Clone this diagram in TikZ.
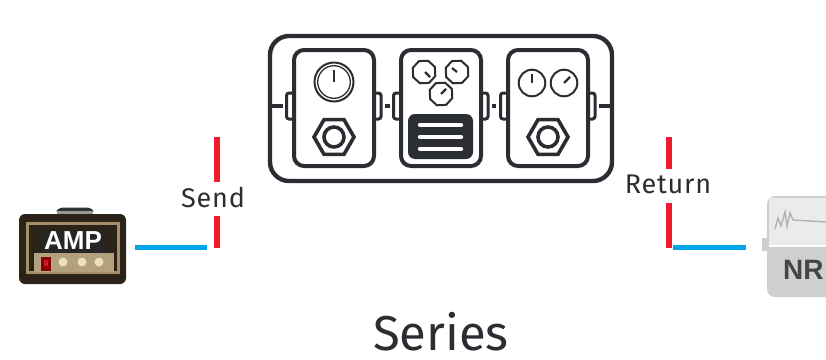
\documentclass[tikz,border=0pt]{standalone}
\usepackage{fontspec}
\setmainfont{Fira Sans}
\newfontfamily\ampfont{Liberation Sans}[Scale=1]
\definecolor{ink}{HTML}{2A2D32}
\definecolor{sendred}{HTML}{ED1C2E}
\definecolor{wireblue}{HTML}{00A6E8}
\definecolor{ampdark}{HTML}{2B2318}
\definecolor{ampgold}{HTML}{A68F68}
\definecolor{ampcream}{HTML}{EFE0B8}
\definecolor{nrgrey}{HTML}{CFD0CE}
\definecolor{nrdark}{HTML}{444545}
\begin{document}
\begin{tikzpicture}[
    x=1pt, y=-1pt,
    line cap=butt, line join=miter,
    board/.style={ink, line width=4.4pt, rounded corners=19pt},
    pedal/.style={ink, fill=white, line width=4pt, rounded corners=10pt},
    tab/.style={ink, fill=white, line width=3pt, rounded corners=2.5pt},
    wire/.style={ink, line width=4pt},
    thin knob/.style={ink, line width=2pt, line join=round},
    pointer/.style={ink, line width=2.2pt},
    nut/.style={ink, line width=3.6pt},
    redline/.style={sendred, line width=5.4pt},
    blueline/.style={wireblue, line width=5.2pt},
    bar/.style={white, line width=4.4pt, line cap=round},
    label/.style={ink, font=\fontsize{27}{27}\selectfont, inner sep=0pt},
]
\useasboundingbox (0,0) rectangle (826,359);

% --- Pedal board ---
\draw[board] (270,36) rectangle (612,181);

% Wires through the board
\draw[wire] (270,106) -- (283,106);
\draw[wire] (385,106) -- (390,106);
\draw[wire] (492,106) -- (496,106);
\draw[wire] (599,106) -- (612,106);

% Side tabs
\draw[tab] (286.5,93) rectangle (296,119);
\draw[tab] (371,93) rectangle (381,119);
\draw[tab] (393.5,93) rectangle (403,119);
\draw[tab] (478,93) rectangle (488,119);
\draw[tab] (500.5,93) rectangle (510,119);
\draw[tab] (585,93) rectangle (595,119);

% Pedal bodies
\draw[pedal] (294,50) rectangle (374,166);
\draw[pedal] (401,50) rectangle (481,166);
\draw[pedal] (508,50) rectangle (588,166);

% --- Pedal 1: big knob and jack ---
\draw[thin knob] (334,82) circle (19.5);
\draw[ink, line width=1.3pt] (334,82) circle (16.3);
\draw[pointer] (334,70) -- (334,82);
\draw[nut] (334,137) +(0:20) -- +(60:20) -- +(120:20) -- +(180:20) -- +(240:20) -- +(300:20) -- cycle;
\draw[nut] (334,137) circle (10);

% --- Pedal 2: three knobs and panel ---
\draw[thin knob] (424,72) +(20:12) -- +(65:12) -- +(110:12) -- +(155:12) -- +(200:12) -- +(245:12) -- +(290:12) -- +(335:12) -- cycle;
\draw[pointer] (425,72) -- (430,77);
\draw[thin knob] (457,72) +(20:12) -- +(65:12) -- +(110:12) -- +(155:12) -- +(200:12) -- +(245:12) -- +(290:12) -- +(335:12) -- cycle;
\draw[pointer] (452,68) -- (457,72);
\draw[thin knob] (441,94) +(20:12) -- +(65:12) -- +(110:12) -- +(155:12) -- +(200:12) -- +(245:12) -- +(290:12) -- +(335:12) -- cycle;
\draw[pointer] (441,94) -- (446,89);
\fill[ink, rounded corners=7pt] (408,114) rectangle (473,159);
\draw[bar] (420,125) -- (461,125);
\draw[bar] (420,137) -- (461,137);
\draw[bar] (420,149) -- (461,149);

% --- Pedal 3: two knobs and jack ---
\draw[thin knob] (532,83) circle (13.3);
\draw[pointer] (532,74) -- (532,83);
\draw[thin knob] (564,83) circle (13.3);
\draw[pointer] (564,83) -- (570,77);
\draw[nut] (548,137) +(0:20) -- +(60:20) -- +(120:20) -- +(180:20) -- +(240:20) -- +(300:20) -- cycle;
\draw[nut] (548,137) circle (10);

% --- Send side ---
\draw[redline] (217,137) -- (217,182);
\draw[redline] (217,216) -- (217,248);
\draw[blueline] (135,247.5) -- (207,247.5);
\node[label] (send) at (213,197.5) {\addfontfeature{LetterSpace=3}Send};

% --- Return side ---
\draw[redline] (669,137) -- (669,169);
\draw[redline] (669,203) -- (669,248);
\draw[blueline] (673,247.5) -- (746,247.5);
\node[label] (return) at (668,184.5) {\addfontfeature{LetterSpace=3}Return};

% --- Amp head ---
\fill[black!80, rounded corners=3pt] (55,212) -- (60,207.5) -- (90,207.5) -- (95,212) -- cycle;
\fill[black!40] (57,211) rectangle (93,214);
\fill[ampdark, rounded corners=6pt] (19,214) rectangle (126,284);
\fill[ampgold] (26,222) rectangle (120,274);
\fill[ampdark] (29,225) rectangle (117,271);
\fill[ampgold!85!white] (34,253) rectangle (114,272);
\fill[black!85] (42,231) rectangle (106,253);
\node[white, font=\ampfont\bfseries\fontsize{26}{26}\selectfont, inner sep=0pt] (amp) at (73,241) {AMP};
\fill[red!55!black] (41,257) rectangle (51,271);
\fill[sendred!85!black] (44,260) rectangle (48,266);
\fill[ampcream] (63,262) circle (4.5);
\fill[ampcream] (82,262) circle (4.5);
\fill[ampcream] (99,262) circle (4.5);

% --- NR pedal, cut by the right edge ---
\fill[nrgrey] (762,238) rectangle (770,251);
\fill[nrgrey, rounded corners=8pt] (767,196) -- (840,196) -- (840,297) -- (767,297) -- cycle;
\fill[black!8] (769,198) rectangle (826,245);
\draw[white, line width=1.2pt] (769,246) -- (826,246);
\draw[black!30, line width=1.4pt] (775,229) -- (778,218) -- (781,226) -- (785,212) -- (787,226) -- (790,213) -- (793,220) -- (826,222);
\node[nrdark, font=\ampfont\bfseries\fontsize{28}{28}\selectfont, inner sep=0pt, anchor=west] (nr) at (783,270) {NR};

% --- Title ---
\node[ink, font=\fontsize{49}{49}\selectfont, inner sep=0pt] (series) at (441,332) {Series};
\end{tikzpicture}
\end{document}
